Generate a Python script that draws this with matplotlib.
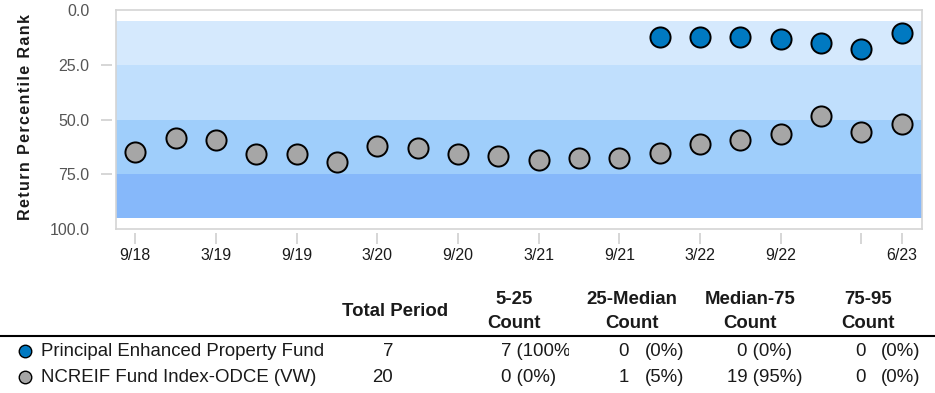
import matplotlib
matplotlib.use("Agg")
import matplotlib.pyplot as plt
from matplotlib.transforms import Bbox, TransformedBbox

plt.rcParams["font.family"] = ["Liberation Sans", "DejaVu Sans"]

INK, MUTED, FRAME = "#1A1A1A", "#555555", "#D4D4D4"
FUND_BLUE, INDEX_GRAY = "#0079C1", "#A6A6A6"

# quarterly periods, 9/18 .. 6/23
quarters = ["9/18", "12/18", "3/19", "6/19", "9/19", "12/19", "3/20", "6/20",
            "9/20", "12/20", "3/21", "6/21", "9/21", "12/21", "3/22", "6/22",
            "9/22", "12/22", "3/23", "6/23"]
tick_idx = [0, 2, 4, 6, 8, 10, 12, 14, 16, 18, 19]
tick_text = ["9/18", "3/19", "9/19", "3/20", "9/20", "3/21", "9/21", "3/22",
             "9/22", "", "6/23"]

# percentile ranks (lower = better)
fund_rank = [None] * 13 + [12.4, 12.4, 12.4, 13.3, 15.0, 17.9, 10.6]
index_rank = [64.8, 58.4, 59.5, 65.7, 65.7, 69.2, 62.1, 62.8, 65.7, 66.6,
              68.3, 67.4, 67.4, 65.5, 61.1, 59.3, 56.6, 48.5, 55.7, 52.0]

band_edges = [5, 25, 50, 75, 95]
band_colors = ["#D5E9FD", "#C0DFFD", "#9FCEFB", "#86B8FA"]

series_names = ["Principal Enhanced Property Fund", "NCREIF Fund Index-ODCE (VW)"]
series_colors = [FUND_BLUE, INDEX_GRAY]
total_period = [7, 20]
bucket_heads = ["5-25", "25-Median", "Median-75", "75-95"]
bucket_counts = [[7, 0, 0, 0], [0, 1, 19, 0]]
bucket_pcts = [[100, 0, 0, 0], [0, 5, 95, 0]]

W, H = 935, 393
fig = plt.figure(figsize=(W / 100, H / 100), dpi=100)
fig.patch.set_facecolor("white")


def px_box(l, t, r, b):
    return [l / W, 1 - b / H, (r - l) / W, (b - t) / H]


ax = fig.add_axes(px_box(116, 10, 922, 229))
x = list(range(len(quarters)))
ax.set_xlim(-0.48, 19.5)
ax.set_ylim(100, 0)

for lo, hi, c in zip(band_edges[:-1], band_edges[1:], band_colors):
    ax.axhspan(lo, hi, color=c, lw=0, zorder=0)

fx = [i for i, v in zip(x, fund_rank) if v is not None]
fy = [v for v in fund_rank if v is not None]
ax.plot(x, index_rank, ls="none", marker="o", ms=14.5, mfc=INDEX_GRAY,
        mec="black", mew=1.4, zorder=3)
ax.plot(fx, fy, ls="none", marker="o", ms=14.5, mfc=FUND_BLUE,
        mec="black", mew=1.4, zorder=3)

# frame as a box, ticks pushed a few pixels off it
for s in ("top", "right"):
    ax.spines[s].set_color(FRAME)
    ax.spines[s].set_linewidth(1.2)
for s in ("bottom", "left"):
    ax.spines[s].set_position(("outward", 3))
    ax.spines[s].set_visible(False)
ax.plot([0, 0], [0, 1], transform=ax.transAxes, color=FRAME, lw=1.2, clip_on=False)
ax.plot([0, 1], [0, 0], transform=ax.transAxes, color=FRAME, lw=1.2, clip_on=False)

ax.set_xticks(tick_idx)
ax.set_xticklabels(tick_text)
ax.set_yticks([0, 25, 50, 75, 100])
ax.set_yticklabels(["0.0", "25.0", "50.0", "75.0", "100.0"])
ax.tick_params(axis="x", direction="out", length=8, width=1.2, color="#D0D0D0",
               labelsize=11.5, labelcolor=INK, pad=2.5)
ax.tick_params(axis="y", direction="out", length=8, width=1.2, color="#D0D0D0",
               labelsize=11.5, labelcolor=MUTED, pad=8)
for t in (ax.yaxis.get_major_ticks()[0], ax.yaxis.get_major_ticks()[-1]):
    t.tick1line.set_visible(False)

hs = "\u200a"
fig.text(26 / W, 1 - 117 / H, hs.join("Return Percentile Rank"), rotation=90,
         ha="center", va="center", fontsize=11.5, fontweight="bold", color=INK)

# summary table below the chart, laid out in pixel coordinates
tab = fig.add_axes([0, 0, 1, 1], zorder=-1)
tab.set_xlim(0, W)
tab.set_ylim(H, 0)
tab.axis("off")
fs = 13.4

tab.text(395, 312, "Total Period", ha="center", va="center", fontsize=fs,
         fontweight="bold", color=INK)
head_x = [514, 632, 750, 868]
for hx, name in zip(head_x, bucket_heads):
    tab.text(hx, 299, name, ha="center", va="center", fontsize=fs, fontweight="bold", color=INK)
    tab.text(hx, 323, "Count", ha="center", va="center",
             fontsize=fs, fontweight="bold", color=INK)
tab.plot([0, W], [336, 336], color="black", lw=1.5)

row_y = [351, 377]
for r, (yy, name, col) in enumerate(zip(row_y, series_names, series_colors)):
    tab.plot(25, yy, marker="o", ms=9, mfc=col, mec="black", mew=1.0)
    tab.text(41, yy, name, ha="left", va="center", fontsize=fs, color=INK)
    tab.text(393, yy, str(total_period[r]), ha="right", va="center", fontsize=fs, color=INK)
    c, p = bucket_counts[r], bucket_pcts[r]
    # 5-25 column: narrow cell, text is clipped at its right edge
    t = tab.text(501, yy, f"{c[0]} ({p[0]}%)", ha="left", va="center", fontsize=fs, color=INK)
    t.set_clip_box(TransformedBbox(Bbox([[480, 330], [569, 390]]), tab.transData))
    t.set_clip_on(True)
    tab.text(629, yy, str(c[1]), ha="right", va="center", fontsize=fs, color=INK)
    tab.text(645, yy, f"({p[1]}%)", ha="left", va="center", fontsize=fs, color=INK)
    tab.text(765, yy, f"{c[2]} ({p[2]}%)", ha="center", va="center", fontsize=fs, color=INK)
    tab.text(866, yy, str(c[3]), ha="right", va="center", fontsize=fs, color=INK)
    tab.text(881, yy, f"({p[3]}%)", ha="left", va="center", fontsize=fs, color=INK)

fig.savefig("out.png", dpi=100)
